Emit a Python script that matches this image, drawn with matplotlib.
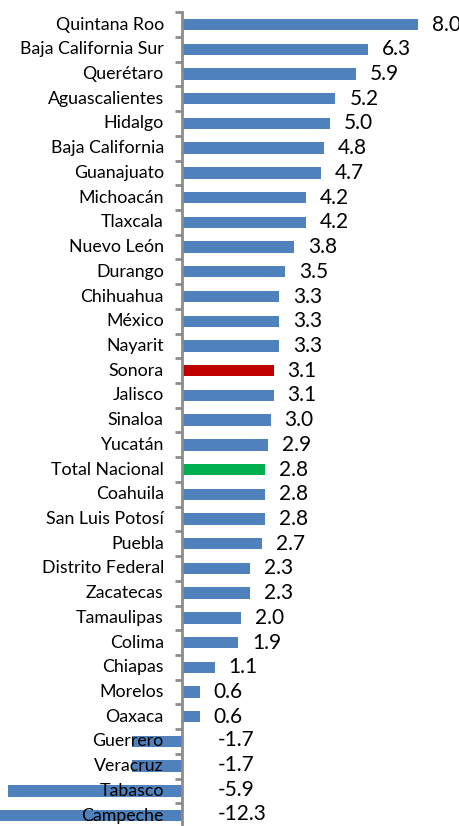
import numpy as np
import matplotlib.pyplot as plt
from matplotlib.transforms import offset_copy

# data
estados = ['Quintana Roo', 'Baja California Sur', 'Querétaro', 'Aguascalientes',
           'Hidalgo', 'Baja California', 'Guanajuato', 'Michoacán', 'Tlaxcala',
           'Nuevo León', 'Durango', 'Chihuahua', 'México', 'Nayarit', 'Sonora',
           'Jalisco', 'Sinaloa', 'Yucatán', 'Total Nacional', 'Coahuila',
           'San Luis Potosí', 'Puebla', 'Distrito Federal', 'Zacatecas',
           'Tamaulipas', 'Colima', 'Chiapas', 'Morelos', 'Oaxaca', 'Guerrero',
           'Veracruz', 'Tabasco', 'Campeche']
valores = [8.0, 6.3, 5.9, 5.2, 5.0, 4.8, 4.7, 4.2, 4.2, 3.8, 3.5, 3.3, 3.3, 3.3,
           3.1, 3.1, 3.0, 2.9, 2.8, 2.8, 2.8, 2.7, 2.3, 2.3, 2.0, 1.9, 1.1, 0.6,
           0.6, -1.7, -1.7, -5.9, -12.3]

colores = []
for e in estados:
    if e == 'Sonora':
        colores.append('#C00000')
    elif e == 'Total Nacional':
        colores.append('#00B050')
    else:
        colores.append('#4F81BD')

plt.rcParams['font.family'] = ['Lato', 'DejaVu Sans']

fig = plt.figure(figsize=(4.6, 8.26), dpi=100)
ax = fig.add_axes([0, -0.0024, 1, 0.9876])

y = np.arange(len(estados))
ax.barh(y, valores, height=0.46, color=colores, zorder=1)

ax.set_xlim(-6.17, 9.42)
ax.set_ylim(len(estados) - 0.5, -0.5)

# axis at zero with tick marks between categories
for s in ['top', 'right', 'bottom']:
    ax.spines[s].set_visible(False)
ax.spines['left'].set_position(('data', 0))
ax.spines['left'].set_color('#8C8C8C')
ax.spines['left'].set_linewidth(2)
ax.spines['left'].set_zorder(3)
ax.set_xticks([])
ax.set_yticks(np.arange(len(estados) + 1) - 0.5)
ax.set_yticklabels([])
ax.tick_params(axis='y', direction='out', length=5, width=2, color='#8C8C8C')

# category labels to the left of the axis
for i, e in enumerate(estados):
    ax.text(-0.62, i, e, ha='right', va='center', fontsize=12.8, color='black', zorder=4)

# value labels
for i, v in enumerate(valores):
    if v >= 0:
        tr = offset_copy(ax.transData, fig=fig, x=14, y=0, units='dots')
        ax.text(v, i, f'{v:.1f}', transform=tr, ha='left', va='center',
                fontsize=15, color='black')
    else:
        ax.text(1.2, i - 0.05, f'{v:.1f}', ha='left', va='center',
                fontsize=15, color='black')

fig.savefig('out.png', dpi=100)
